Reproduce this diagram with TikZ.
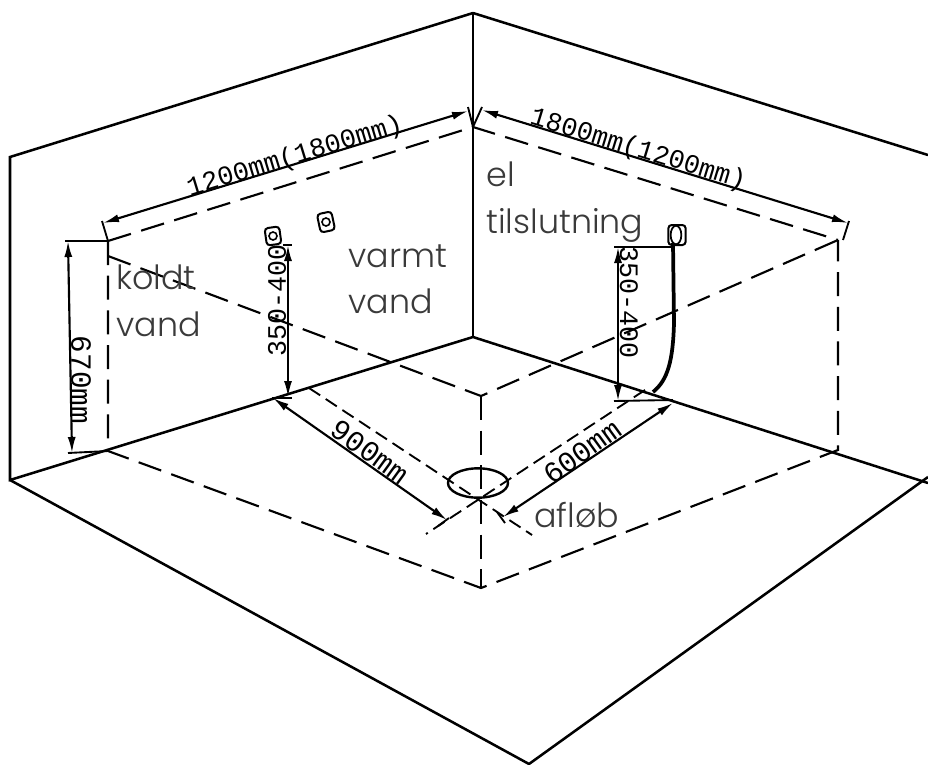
\documentclass[tikz,border=0pt]{standalone}
\usepackage{fontspec}
\usetikzlibrary{arrows.meta, shapes.geometric}
\newfontfamily\labelfont{Poppins Light}
\newfontfamily\cadfont{Liberation Mono}
\definecolor{labelgrey}{HTML}{3A3A3A}
\tikzset{%
  wall/.style     = {line width = 1.9pt},
  hidden/.style   = {line width = 1.6pt, dash pattern = on 18pt off 8pt},
  hiddenb/.style  = {line width = 1.4pt, dash pattern = on 10pt off 5pt},
  dim/.style      = {line width = 1.6pt, {Latex[length = 12pt, width = 6pt]}-{Latex[length = 12pt, width = 6pt]}},
  tick/.style     = {line width = 1.4pt},
  cadtext/.style  = {font = \cadfont\fontsize{20}{20}\selectfont, inner sep = 0pt},
  cadbig/.style   = {font = \cadfont\fontsize{22}{22}\selectfont, inner sep = 0pt},
  lbl/.style      = {font = \labelfont\fontsize{25}{35}\selectfont, text = labelgrey, anchor = north west, align = left, inner sep = 0pt},
  socket/.style   = {draw, line width = 1.5pt, rounded corners = 2.5pt, minimum width = 11pt, minimum height = 13pt, inner sep = 0pt},
  socketin/.style = {draw, circle, line width = 1.2pt, minimum size = 6pt, inner sep = 0pt}
}
\begin{document}
\begin{tikzpicture}[x = 0.75pt, y = -0.75pt]
\useasboundingbox (0,0) rectangle (928,764);
%room corners
\coordinate (backtop) at (473,13);
\coordinate (backbot) at (473,337);
\coordinate (lefttop) at (10,157);
\coordinate (leftbot) at (10,480);
\coordinate (righttop) at (928,155);
\coordinate (rightbot) at (928,483);
\coordinate (rightfront) at (928,477);
\coordinate (front) at (529,764);
%tub corners
\coordinate (tubback) at (473,127);
\coordinate (tubleft) at (108,241);
\coordinate (tubright) at (838,240);
\coordinate (rimleft) at (108,256);
\coordinate (rimmid) at (481,396);
\coordinate (floorleft) at (108,451);
\coordinate (floorright) at (838,450);
\coordinate (floorfront) at (481,588);
%walls
\draw[wall] (backtop) -- (backbot);
\draw[wall] (backtop) -- (lefttop) -- (leftbot) -- (backbot) -- (rightbot);
\draw[wall] (backtop) -- (righttop);
\draw[wall] (leftbot) -- (front) -- (rightfront);
%tub outline
\draw[hidden] (tubleft) -- (tubback) -- (tubright);
\draw[hidden] (tubleft) -- (floorleft) -- (floorfront) -- (floorright) -- (tubright);
\draw[hidden] (rimleft) -- (rimmid) -- (tubright);
\draw[hidden] (rimmid) -- (floorfront);
%drain
\node[draw, ellipse, line width = 1.8pt, minimum width = 45pt, minimum height = 22pt, inner sep = 0pt] (drain) at (478,483) {};
\coordinate (drainleft) at (309,388);
\coordinate (drainleftend) at (532,535);
\coordinate (drainright) at (645,390);
\coordinate (drainrightend) at (426,534);
\draw[hiddenb] (drainleft) -- (drainleftend);
\draw[hiddenb] (drainright) -- (drainrightend);
%top dimensions
\draw[tick] (102,221) -- (tubleft);
\draw[tick] (468,107) -- (tubback) -- (482,107);
\draw[tick] (849,221) -- (843,240);
\coordinate (dimlefta) at (103,223);
\coordinate (dimleftb) at (468,111);
\coordinate (dimrighta) at (482,110);
\coordinate (dimrightb) at (848,223);
\draw[dim] (dimlefta) -- (dimleftb);
\draw[dim] (dimrighta) -- (dimrightb);
%height dimensions
\coordinate (hleft) at (68,241);
\coordinate (hleftb) at (72,453);
\draw[tick] (65,241) -- (tubleft);
\draw[tick] (68,453) -- (floorleft);
\draw[dim] (hleft) -- (hleftb);
\coordinate (hmid) at (288,245);
\coordinate (hmidb) at (288,397);
\draw[tick] (283,245) -- (292,245);
\draw[tick] (272,398) -- (292,398);
\draw[dim] (hmid) -- (hmidb);
\coordinate (hright) at (618,247);
\coordinate (hrightb) at (618,401);
\draw[tick] (614,247) -- (673,247);
\draw[tick] (614,401) -- (673,400);
\draw[dim] (hright) -- (hrightb);
%floor dimensions
\coordinate (floora) at (273,398);
\coordinate (floorb) at (447,520);
\coordinate (floorc) at (673,403);
\coordinate (floord) at (503,517);
\draw[dim] (floora) -- (floorb);
\draw[dim] (floorc) -- (floord);
\draw[tick] (438,526) -- (449,518);
\draw[tick] (497,512) -- (505,523);
%sockets and cable
\node[socket, rotate = 8] (hot) at (273,236) {};
\node[socketin] (hotin) at (273,236) {};
\node[socket, rotate = 12, minimum height = 14pt] (cold) at (326,222) {};
\node[socketin] (coldin) at (326,222) {};
\node[socket, minimum width = 13pt, minimum height = 15pt] (power) at (677,235) {};
\node[draw, ellipse, line width = 1.3pt, minimum width = 8pt, minimum height = 14pt, inner sep = 0pt] (powerin) at (676,235) {};
\draw[line width = 2.8pt] (673,243) -- (674,323) .. controls (673,360) and (668,380) .. (653,392);
%dimension texts
\node[cadtext, rotate = 17] (widthl) at (295,157) {1200mm(1800mm)};
\node[cadtext, rotate = -17] (widthr) at (638,150) {1800mm(1200mm)};
\node[cadbig, rotate = -90] (h670) at (81,380) {670mm};
\node[cadtext, rotate = 90] (h350) at (277,300) {350-400};
\node[cadtext, rotate = -90] (h350b) at (629,303) {350-400};
\node[cadbig, rotate = -36] (d900) at (370,452) {900mm};
\node[cadbig, rotate = 36] (d600) at (582,452) {600mm};
%labels
\node[lbl] (koldt) at (116,265) {koldt\\vand};
\node[lbl] (varmt) at (348,244) {varmt\\vand};
\node[lbl] (el) at (486,162) {el\\tilslutning};
\node[lbl] (aflob) at (534,502) {afløb};
\end{tikzpicture}
\end{document}
